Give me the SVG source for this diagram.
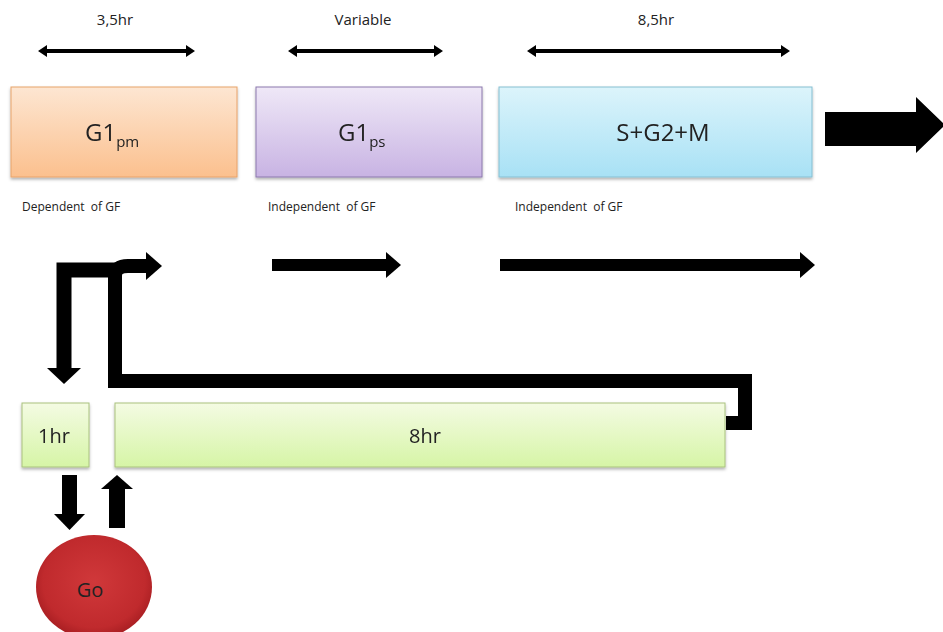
<svg xmlns="http://www.w3.org/2000/svg" width="943" height="632" viewBox="0 0 943 632">
<style>
  .lbl{font-family:"Open Sans","Liberation Sans",Arial,sans-serif;fill:#222;}
  .top{font-size:15px;text-anchor:middle;}
  .gf{font-size:12px;white-space:pre;}
  .big{font-size:24px;text-anchor:middle;}
  .mid{font-size:20px;text-anchor:middle;}
  .bar{fill:none;stroke:#000;stroke-linejoin:miter;}
  .head{fill:#000;}
</style>
<defs>
  <linearGradient id="gO" x1="0" y1="0" x2="0" y2="1"><stop offset="0" stop-color="#fde6d2"/><stop offset="1" stop-color="#fbc08e"/></linearGradient>
  <linearGradient id="gP" x1="0" y1="0" x2="0" y2="1"><stop offset="0" stop-color="#efe8f7"/><stop offset="1" stop-color="#c8b3e3"/></linearGradient>
  <linearGradient id="gB" x1="0" y1="0" x2="0" y2="1"><stop offset="0" stop-color="#dcf4fb"/><stop offset="1" stop-color="#a8e1f5"/></linearGradient>
  <linearGradient id="gG" x1="0" y1="0" x2="0" y2="1"><stop offset="0" stop-color="#f4fbe3"/><stop offset="1" stop-color="#d6f5a6"/></linearGradient>
  <radialGradient id="gR" cx="0.5" cy="0.45" r="0.55"><stop offset="0" stop-color="#d0383a"/><stop offset="0.8" stop-color="#c02a2d"/><stop offset="1" stop-color="#a81e22"/></radialGradient>
  <filter id="sh" x="-10%" y="-10%" width="120%" height="130%"><feDropShadow dx="0" dy="2" stdDeviation="1.5" flood-color="#000" flood-opacity="0.3"/></filter>
</defs>

<!-- duration labels and double arrows -->
<g id="durations">
  <text class="lbl top" x="115" y="25">3,5hr</text>
  <text class="lbl top" x="363" y="25">Variable</text>
  <text class="lbl top" x="656" y="25">8,5hr</text>
  <g class="head">
    <polygon points="38,51 47,45 47,49 186,49 186,45 195,51 186,57 186,53 47,53 47,57"/>
    <polygon points="288,51 297,45 297,49 434,49 434,45 443,51 434,57 434,53 297,53 297,57"/>
    <polygon points="527,51 536,45 536,49 781,49 781,45 790,51 781,57 781,53 536,53 536,57"/>
  </g>
</g>

<g id="G1pm" filter="url(#sh)">
  <rect x="11" y="87" width="226" height="90" fill="url(#gO)" stroke="#e8a36a" stroke-width="1"/>
  <text class="lbl" x="85" y="141" font-size="24">G1<tspan font-size="15" dy="6">pm</tspan></text>
</g>
<g id="G1ps" filter="url(#sh)">
  <rect x="256" y="87" width="226" height="90" fill="url(#gP)" stroke="#8c79ad" stroke-width="1"/>
  <text class="lbl" x="338" y="141" font-size="24">G1<tspan font-size="15" dy="6">ps</tspan></text>
</g>
<g id="SG2M" filter="url(#sh)">
  <rect x="499" y="87" width="313" height="90" fill="url(#gB)" stroke="#86bfd2" stroke-width="1"/>
  <text class="lbl big" x="663" y="141">S+G2+M</text>
</g>

<g id="gf-labels">
  <text class="lbl gf" x="22" y="211" xml:space="preserve">Dependent  of GF</text>
  <text class="lbl gf" x="268" y="211" xml:space="preserve">Independent  of GF</text>
  <text class="lbl gf" x="515" y="211" xml:space="preserve">Independent  of GF</text>
</g>

<g id="h1" filter="url(#sh)">
  <rect x="22" y="403" width="67" height="64" fill="url(#gG)" stroke="#a9c27f" stroke-width="1"/>
  <text class="lbl mid" x="54" y="443">1hr</text>
</g>
<g id="h8" filter="url(#sh)">
  <rect x="115" y="403" width="610" height="64" fill="url(#gG)" stroke="#a9c27f" stroke-width="1"/>
  <text class="lbl mid" x="425" y="443">8hr</text>
</g>

<g id="Go">
  <ellipse cx="94" cy="587" rx="58" ry="52" fill="url(#gR)"/>
  <text class="lbl mid" x="90" y="597" fill="#3a0a0a" font-size="21">Go</text>
</g>

<g id="connectors">
  <!-- big arrow right -->
  <polygon class="head" points="825,112 916,112 916,97 945,125 916,153 916,146 825,146"/>
  <!-- split arrow down into 1hr -->
  <path class="bar" stroke-width="15" d="M120 270 H64 V368"/>
  <polygon class="head" points="47,368 81,368 64,384"/>
  <!-- loop from 8hr end back to G1pm -->
  <path class="bar" stroke-width="14" d="M726 423 H745 V381 H115 V276 Q115 266 128 266 H147"/>
  <polygon class="head" points="146,252 162,266 146,280"/>
  <!-- G1ps and S arrows -->
  <path class="bar" stroke-width="12" d="M272 265 H388"/>
  <polygon class="head" points="386,252 401,265 386,278"/>
  <path class="bar" stroke-width="12" d="M500 265 H802"/>
  <polygon class="head" points="800,252 815,265 800,278"/>
  <!-- 1hr <-> Go -->
  <rect x="62" y="475" width="15" height="40" fill="#000"/>
  <polygon class="head" points="54,514 85,514 69.5,530"/>
  <rect x="109" y="488" width="16" height="40" fill="#000"/>
  <polygon class="head" points="101,489 133,489 117,475"/>
</g>
</svg>
